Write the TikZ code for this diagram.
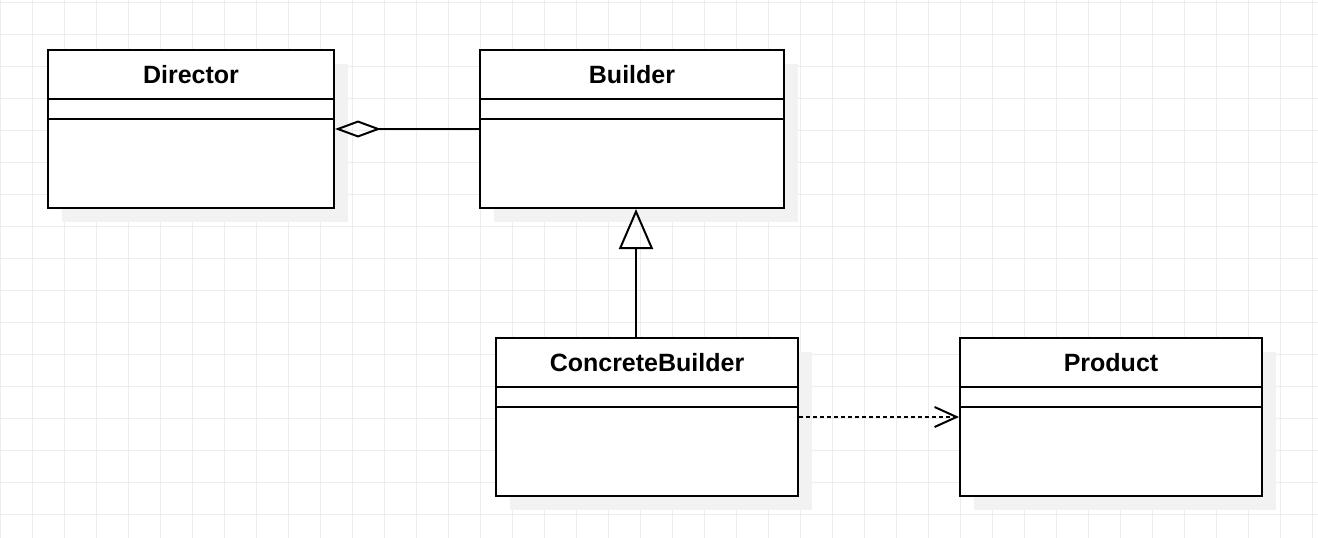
\documentclass[tikz,border=0pt]{standalone}
\usepackage{fontspec}
\setmainfont{Liberation Sans}
\usetikzlibrary{arrows.meta,shadows}

\tikzset{
  gridline/.style={draw=black!7, line width=1pt},
  classbox/.style={draw, line width=2pt, fill=white, inner sep=0pt,
    drop shadow={shadow xshift=14pt, shadow yshift=-14pt, fill=black!5, opacity=1}},
  classname/.style={font=\fontsize{25}{30}\selectfont\bfseries, inner sep=0pt},
  classline/.style={line width=2pt},
  link/.style={line width=2pt}
}

\begin{document}
\begin{tikzpicture}[x=1pt, y=-1pt]
\useasboundingbox (0,0) rectangle (1318,538);
% background grid
\begin{scope}[shift={(0,2)}]
  \draw[gridline, step=32pt] (0,-2) grid (1318,536);
\end{scope}

% classes
\node[classbox, minimum width=286pt, minimum height=158pt] (director) at (191,129) {};
\node[classbox, minimum width=304pt, minimum height=158pt] (builder) at (632,129) {};
\node[classbox, minimum width=302pt, minimum height=158pt] (cb) at (647,417) {};
\node[classbox, minimum width=302pt, minimum height=158pt] (product) at (1111,417) {};

\node[classname] (director-name) at (191,75) {Director};
\node[classname] (builder-name) at (632,75) {Builder};
\node[classname] (cb-name) at (647,363) {ConcreteBuilder};
\node[classname] (product-name) at (1111,363) {Product};

\foreach \c in {director,builder,cb,product} {
  \draw[classline] ([yshift=-50pt]\c.north west) -- ([yshift=-50pt]\c.north east);
  \draw[classline] ([yshift=-70pt]\c.north west) -- ([yshift=-70pt]\c.north east);
}

% relations
\draw[link, {Diamond[open, length=46pt, width=17pt]}-] (director.east) -- (builder.west);
\coordinate (gen) at (636,0);
\draw[link, -{Triangle[open, length=40pt, width=34pt]}] (cb.north -| gen) -- (builder.south -| gen);
\draw[link, dash pattern=on 4pt off 3pt, -{Straight Barb[length=22pt, width=20pt]}] (cb.east) -- (product.west);
\end{tikzpicture}
\end{document}
